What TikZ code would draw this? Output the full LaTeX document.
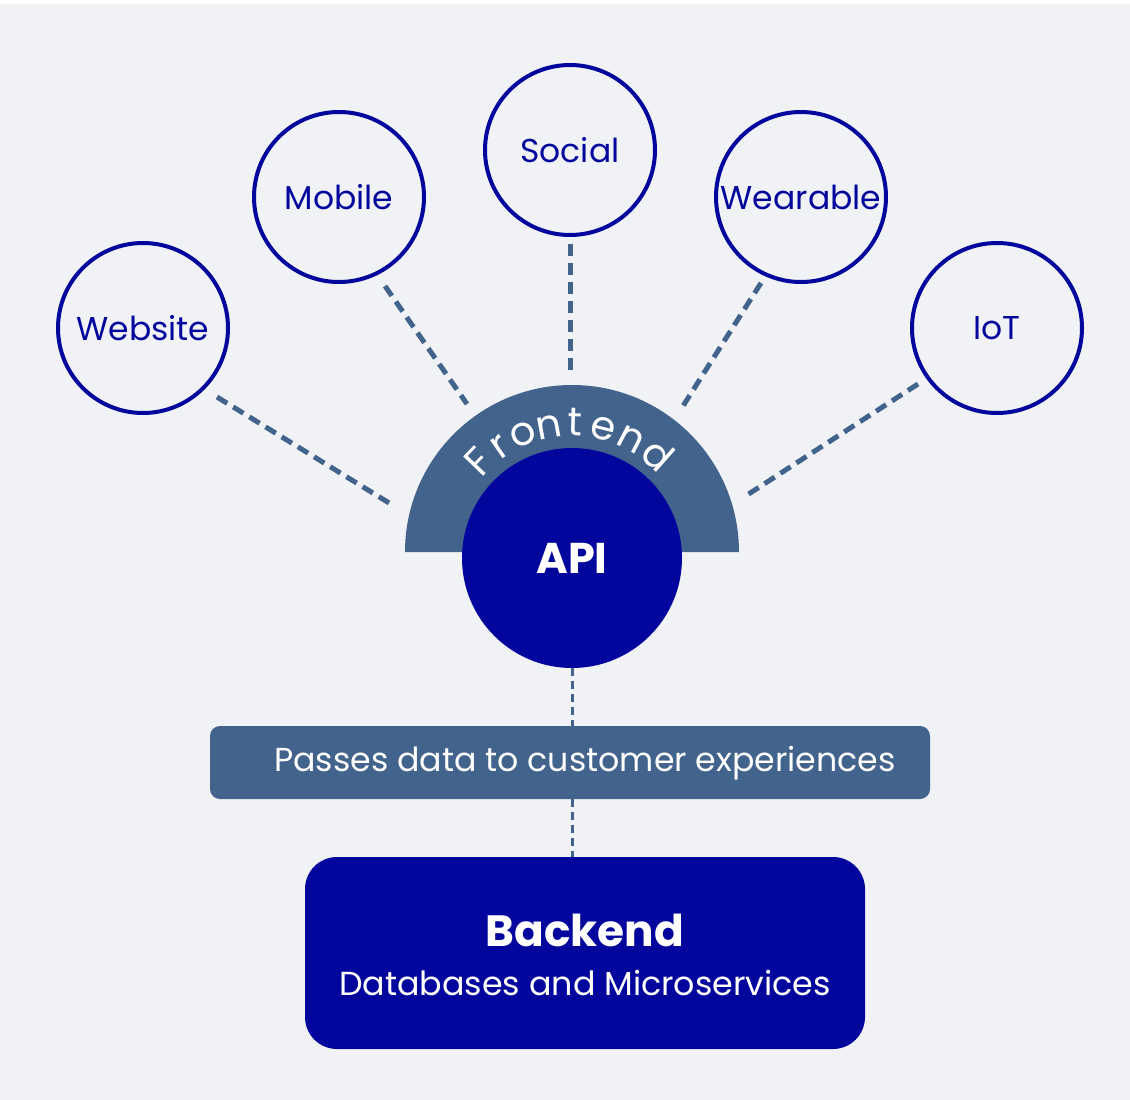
\documentclass[tikz,border=0pt]{standalone}
\usepackage{fontspec}
\setmainfont{Poppins}
\usetikzlibrary{calc}
\definecolor{bgc}{HTML}{F1F2F6}
\definecolor{navy}{HTML}{03069C}
\definecolor{slate}{HTML}{42638B}
\tikzset{
  chan/.style={circle, draw=navy, line width=4pt, minimum size=170pt, inner sep=0pt, text=navy, font=\fontsize{33}{38}\selectfont},
  link/.style={draw=slate, line width=5pt, dash pattern=on 12pt off 7pt},
  thinlink/.style={draw=slate, line width=3pt, dash pattern=on 8pt off 5pt},
  letter/.style={text=white, anchor=base, inner sep=0pt, font=\fontsize{40}{44}\selectfont},
}
\begin{document}
\begin{tikzpicture}[x=1pt,y=-1pt]
\useasboundingbox (0,0) rectangle (1130,1100);
\fill[white] (0,0) rectangle (1130,1100);
\fill[bgc] (0,4) rectangle (1130,1100);

% channel circles
\node[chan] (web) at (143,328) {Website};
\node[chan] (mob) at (339,197) {Mobile};
\node[chan] (soc) at (570,150) {Social};
\node[chan] (wear) at (801,197) {Wearable};
\node[chan] (iot) at (997,328) {IoT};

% connector end points
\coordinate (w1) at (217,397); \coordinate (w2) at (394,506);
\coordinate (m1) at (385,286); \coordinate (m2) at (467,404);
\coordinate (s1) at (570,244); \coordinate (s2) at (570,373);
\coordinate (r1) at (761,283); \coordinate (r2) at (683,406);
\coordinate (i1) at (918,384); \coordinate (i2) at (744,497);
\draw[link] (w1) -- (w2);
\draw[link] (m1) -- (m2);
\draw[link] (s1) -- (s2);
\draw[link] (r1) -- (r2);
\draw[link] (i1) -- (i2);

% frontend half ring
\coordinate (fc) at (572,552);
\fill[slate] (405,552) arc[start angle=180, end angle=360, radius=167] -- cycle;
\foreach \ch/\ang [count=\i] in {F/136,r/124.5,o/112.5,n/100.5,t/88.5,e/76,n/62.5,d/48.5}{
  \node[letter, rotate=\ang-90] (fl\i) at ($(fc)+(-\ang:116)$) {\ch};
}

% API
\node[circle, fill=navy, minimum size=220pt, inner sep=0pt, text=white, font=\fontsize{43}{48}\selectfont\bfseries] (api) at (572,558) {API};

% passes box
\node[rounded corners=10pt, fill=slate, minimum width=720pt, minimum height=73pt, inner sep=0pt] (pass) at (570,762.5) {};
\node[text=white, font=\fontsize{33.2}{38}\selectfont, inner sep=0pt] (passt) at (585,763) {Passes data to customer experiences};

% backend box
\node[rounded corners=32pt, fill=navy, minimum width=560pt, minimum height=192pt, inner sep=0pt] (back) at (585,953) {};
\node[text=white, font=\fontsize{43.8}{48}\selectfont\bfseries, inner sep=0pt] (backt) at (585,930) {Backend};
\node[text=white, font=\fontsize{33.3}{38}\selectfont, inner sep=0pt] (backs) at (585,983) {Databases and Microservices};

\draw[thinlink] (api.south) -- (api.south |- pass.north);
\draw[thinlink] (api.south |- pass.south) -- (api.south |- back.north);
\end{tikzpicture}
\end{document}
